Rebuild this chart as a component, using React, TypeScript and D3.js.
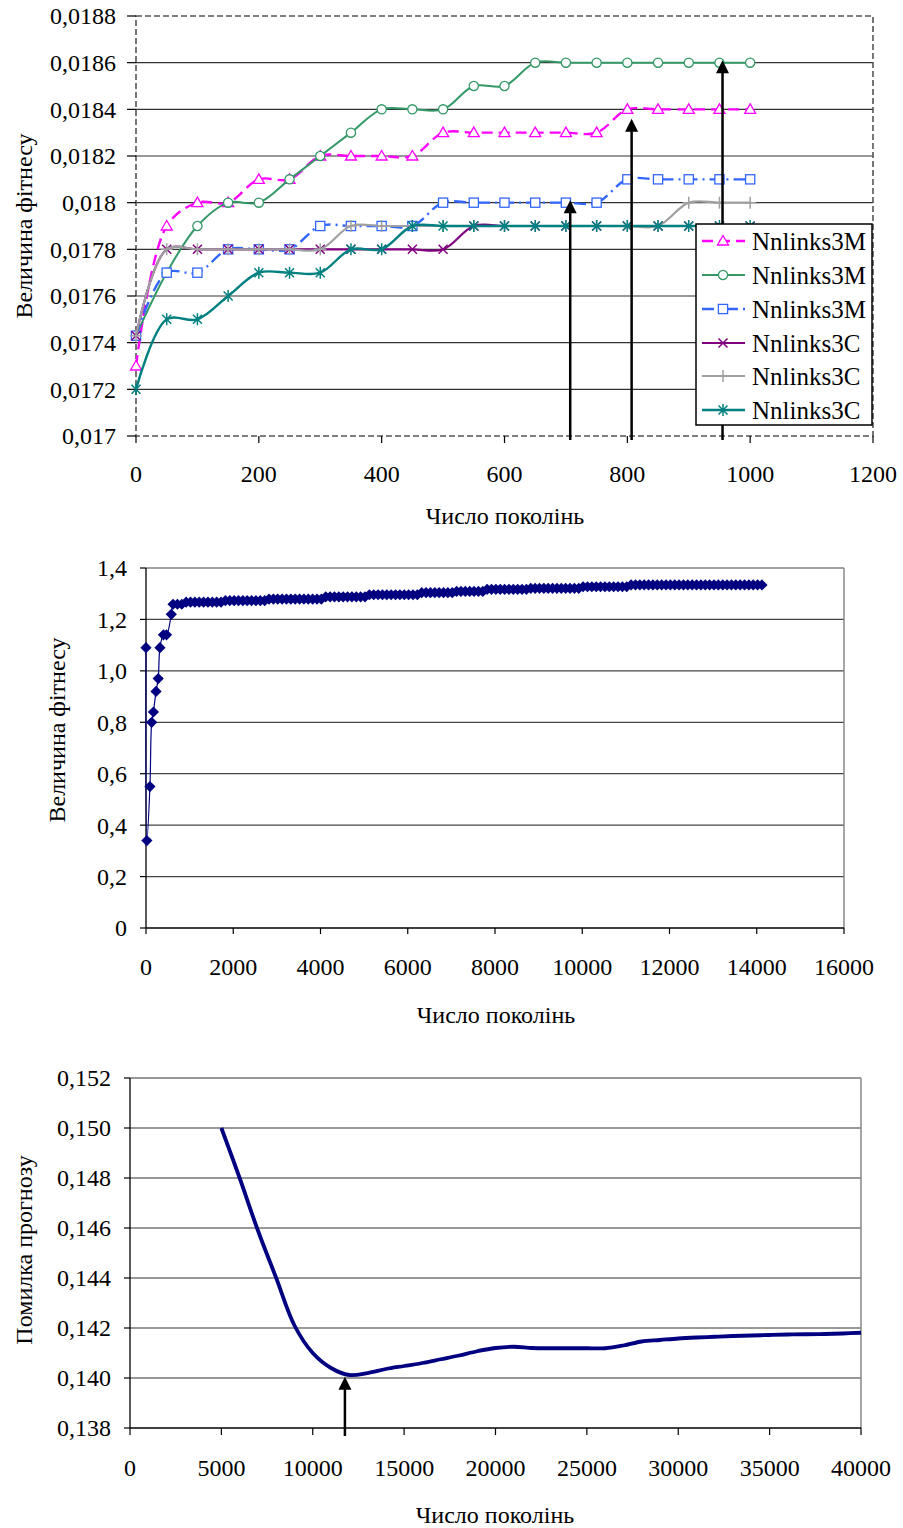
import * as d3 from 'd3';
import React from 'react';

// ---- top chart: fitness vs generations, six runs
const topGens = [0, 50, 100, 150, 200, 250, 300, 350, 400, 450, 500, 550, 600, 650, 700, 750, 800, 850, 900, 950, 1000];
const magentaVals = [0.0173, 0.0179, 0.018, 0.018, 0.0181, 0.0181, 0.0182, 0.0182, 0.0182, 0.0182, 0.0183, 0.0183, 0.0183, 0.0183, 0.0183, 0.0183, 0.0184, 0.0184, 0.0184, 0.0184, 0.0184];
const greenVals = [0.01743, 0.0177, 0.0179, 0.018, 0.018, 0.0181, 0.0182, 0.0183, 0.0184, 0.0184, 0.0184, 0.0185, 0.0185, 0.0186, 0.0186, 0.0186, 0.0186, 0.0186, 0.0186, 0.0186, 0.0186];
const blueVals = [0.01743, 0.0177, 0.0177, 0.0178, 0.0178, 0.0178, 0.0179, 0.0179, 0.0179, 0.0179, 0.018, 0.018, 0.018, 0.018, 0.018, 0.018, 0.0181, 0.0181, 0.0181, 0.0181, 0.0181];
const purpleVals = [0.01743, 0.0178, 0.0178, 0.0178, 0.0178, 0.0178, 0.0178, 0.0178, 0.0178, 0.0178, 0.0178, 0.0179, 0.0179, 0.0179, 0.0179, 0.0179, 0.0179, 0.0179, 0.0179, 0.0179, 0.0179];
const grayVals = [0.01743, 0.0178, 0.0178, 0.0178, 0.0178, 0.0178, 0.0178, 0.0179, 0.0179, 0.0179, 0.0179, 0.0179, 0.0179, 0.0179, 0.0179, 0.0179, 0.0179, 0.0179, 0.018, 0.018, 0.018];
const tealVals = [0.0172, 0.0175, 0.0175, 0.0176, 0.0177, 0.0177, 0.0177, 0.0178, 0.0178, 0.0179, 0.0179, 0.0179, 0.0179, 0.0179, 0.0179, 0.0179, 0.0179, 0.0179, 0.0179, 0.0179, 0.0179];
const topNames = ['Nnlinks3M', 'Nnlinks3M', 'Nnlinks3M', 'Nnlinks3C', 'Nnlinks3C', 'Nnlinks3C'];
const topYTicks = [0.017, 0.0172, 0.0174, 0.0176, 0.0178, 0.018, 0.0182, 0.0184, 0.0186, 0.0188];
const topXTicks = [0, 200, 400, 600, 800, 1000, 1200];
const topArrows = [
  { gen: 707, val: 0.01801 },
  { gen: 807, val: 0.01836 },
  { gen: 955, val: 0.01861 },
];

// ---- middle chart: long run
const midHeadGens = [0, 20, 90, 130, 170, 230, 280, 320, 400, 470, 580];
const midHeadVals = [1.09, 0.34, 0.55, 0.8, 0.84, 0.92, 0.97, 1.09, 1.14, 1.14, 1.22];
const midBandVals = [
  1.259, 1.259, 1.259,
  1.267, 1.267, 1.267, 1.267, 1.267, 1.267, 1.267, 1.267, 1.267,
  1.273, 1.273, 1.273, 1.273, 1.273, 1.273, 1.273, 1.273, 1.273, 1.273,
  1.279, 1.279, 1.279, 1.279, 1.279, 1.279, 1.279, 1.279, 1.279, 1.279, 1.279, 1.279, 1.279,
  1.288, 1.288, 1.288, 1.288, 1.288, 1.288, 1.288, 1.288, 1.288, 1.288,
  1.296, 1.296, 1.296, 1.296, 1.296, 1.296, 1.296, 1.296, 1.296, 1.296, 1.296, 1.296,
  1.304, 1.304, 1.304, 1.304, 1.304, 1.304, 1.304, 1.304,
  1.309, 1.309, 1.309, 1.309, 1.309, 1.309, 1.309,
  1.317, 1.317, 1.317, 1.317, 1.317, 1.317, 1.317, 1.317, 1.317, 1.317,
  1.321, 1.321, 1.321, 1.321, 1.321, 1.321, 1.321, 1.321, 1.321, 1.321, 1.321, 1.321,
  1.327, 1.327, 1.327, 1.327, 1.327, 1.327, 1.327, 1.327, 1.327, 1.327, 1.327,
  1.334, 1.334, 1.334, 1.334, 1.334, 1.334, 1.334, 1.334, 1.334, 1.334, 1.334, 1.334, 1.334, 1.334, 1.334, 1.334,
  1.334, 1.334, 1.334, 1.334, 1.334, 1.334, 1.334, 1.334, 1.334, 1.334, 1.334, 1.334, 1.334, 1.334, 1.334,
];
const midBandGens = d3.range(620, 620 + 100 * midBandVals.length, 100);
const midYTicks = [0, 0.2, 0.4, 0.6, 0.8, 1.0, 1.2, 1.4];
const midXTicks = [0, 2000, 4000, 6000, 8000, 10000, 12000, 14000, 16000];

// ---- bottom chart: forecast error
const botGens = [5000, 6000, 7000, 8000, 9000, 10000, 11000, 12000, 13000, 14000, 15000, 16000, 17000, 18000, 19000, 20000, 21000, 22000, 23000, 24000, 25000, 26000, 27000, 28000, 29000, 30000, 31000, 32000, 33000, 34000, 35000, 36000, 37000, 38000, 39000, 40000];
const botVals = [0.15, 0.148, 0.1459, 0.144, 0.1421, 0.141, 0.1404, 0.14012, 0.1402, 0.14036, 0.14048, 0.1406, 0.14075, 0.1409, 0.14107, 0.1412, 0.14125, 0.1412, 0.14119, 0.14119, 0.14119, 0.14119, 0.1413, 0.14146, 0.14152, 0.14158, 0.14162, 0.14165, 0.14168, 0.1417, 0.14172, 0.14174, 0.14175, 0.14176, 0.14178, 0.14181];
const botYTicks = [0.138, 0.14, 0.142, 0.144, 0.146, 0.148, 0.15, 0.152];
const botXTicks = [0, 5000, 10000, 15000, 20000, 25000, 30000, 35000, 40000];
const botArrow = { gen: 11760, val: 0.14005 };

const FONT = '"Liberation Serif", "Times New Roman", serif';
const FS = 24;

function Marker({ kind, color }) {
  if (kind === 'tri') return <path d="M0,-5.5L5.5,4L-5.5,4Z" fill="#fff" stroke={color} strokeWidth={1.3} />;
  if (kind === 'circle') return <circle r={4.6} fill="#fff" stroke={color} strokeWidth={1.3} />;
  if (kind === 'square') return <rect x={-4.6} y={-4.6} width={9.2} height={9.2} fill="#fff" stroke={color} strokeWidth={1.3} />;
  if (kind === 'x') return <path d="M-4.5,-4.5L4.5,4.5M-4.5,4.5L4.5,-4.5" stroke={color} strokeWidth={1.5} />;
  if (kind === 'plus') return <path d="M0,-6V6M-6,0H6" stroke={color} strokeWidth={1.5} />;
  return <path d="M-4.5,-4.5L4.5,4.5M-4.5,4.5L4.5,-4.5M0,-6V6" stroke={color} strokeWidth={1.5} />;
}

function Arrow({ x, y, bottom }) {
  return (
    <g>
      <line x1={x} x2={x} y1={bottom} y2={y + 10} stroke="#000" strokeWidth={2.5} />
      <path d={`M${x},${y}L${x + 6.5},${y + 13}L${x - 6.5},${y + 13}Z`} fill="#000" />
    </g>
  );
}

function TopChart() {
  const x = d3.scaleLinear().domain([0, 1200]).range([136, 873]);
  const y = d3.scaleLinear().domain([0.017, 0.0188]).range([436, 16]);
  const series = [
    { vals: magentaVals, color: '#FF00FF', dash: '11,6', width: 2.4, marker: 'tri' },
    { vals: greenVals, color: '#339966', dash: null, width: 2, marker: 'circle' },
    { vals: blueVals, color: '#3366FF', dash: '12,5,2,5', width: 2.4, marker: 'square' },
    { vals: purpleVals, color: '#800080', dash: null, width: 2.2, marker: 'x' },
    { vals: grayVals, color: '#A0A0A0', dash: null, width: 2.2, marker: 'plus' },
    { vals: tealVals, color: '#008080', dash: null, width: 2.4, marker: 'star' },
  ];
  const line = d3.line<number>()
    .x((d, i) => x(topGens[i]))
    .y(d => y(d))
    .curve(d3.curveCatmullRom.alpha(0.5));
  const fmt = v => v.toFixed(4).replace(/0+$/, '').replace('.', ',');
  const legY = [241, 275, 309, 343, 376, 410];
  return (
    <g fontFamily={FONT} fontSize={FS}>
      {topYTicks.slice(1, -1).map(t => (
        <line key={t} x1={136} x2={873} y1={y(t)} y2={y(t)} stroke="#333" strokeWidth={1.2} />
      ))}
      <rect x={136} y={16} width={737} height={420} fill="none" stroke="#555" strokeWidth={1.6} strokeDasharray="6,3" />
      {topYTicks.map(t => (
        <g key={t}>
          <line x1={127} x2={136} y1={y(t)} y2={y(t)} stroke="#000" strokeWidth={1.2} />
          <text x={116} y={y(t)} dy="0.35em" textAnchor="end">{fmt(t)}</text>
        </g>
      ))}
      {topXTicks.map(t => (
        <g key={t}>
          <line x1={x(t)} x2={x(t)} y1={436} y2={443} stroke="#000" strokeWidth={1.2} />
          <text x={x(t)} y={474} dy="0.35em" textAnchor="middle">{t}</text>
        </g>
      ))}
      {series.map((s, i) => (
        <g key={i}>
          <path d={line(s.vals)} fill="none" stroke={s.color} strokeWidth={s.width} strokeDasharray={s.dash || undefined} />
          {s.vals.map((v, j) => (
            <g key={j} transform={`translate(${x(topGens[j])},${y(v)})`}>
              <Marker kind={s.marker} color={s.color} />
            </g>
          ))}
        </g>
      ))}
      {topArrows.map((a, i) => (
        <Arrow key={i} x={x(a.gen)} y={y(a.val)} bottom={440} />
      ))}
      <rect x={696} y={224} width={176} height={201} fill="#fff" stroke="#000" strokeWidth={1.5} />
      {series.map((s, i) => (
        <g key={i} transform={`translate(0,${legY[i]})`}>
          <line x1={702} x2={745} y1={0} y2={0} stroke={s.color} strokeWidth={s.width} strokeDasharray={s.dash || undefined} />
          <g transform="translate(723,0)"><Marker kind={s.marker} color={s.color} /></g>
          <text x={752} y={0} dy="0.35em" fontSize={25}>{topNames[i]}</text>
        </g>
      ))}
      <text x={505} y={516} dy="0.35em" textAnchor="middle">Число поколінь</text>
      <text transform="translate(24,226) rotate(-90)" dy="0.35em" textAnchor="middle">Величина фітнесу</text>
    </g>
  );
}

function MidChart() {
  const x = d3.scaleLinear().domain([0, 16000]).range([146, 844]);
  const y = d3.scaleLinear().domain([0, 1.4]).range([928, 568]);
  const gens = midHeadGens.concat(midBandGens);
  const vals = midHeadVals.concat(midBandVals);
  const line = d3.line<number>()
    .x((d, i) => x(gens[i]))
    .y(d => y(d))
    .curve(d3.curveCatmullRom.alpha(0.5));
  const fmt = v => (v === 0 ? '0' : v.toFixed(1).replace('.', ','));
  return (
    <g fontFamily={FONT} fontSize={FS}>
      {midYTicks.slice(1).map(t => (
        <line key={t} x1={146} x2={844} y1={y(t)} y2={y(t)} stroke="#444" strokeWidth={1.2} />
      ))}
      <line x1={844} x2={844} y1={568} y2={928} stroke="#888" strokeWidth={1.5} />
      <line x1={146} x2={146} y1={568} y2={928} stroke="#000" strokeWidth={1.3} />
      <line x1={146} x2={844} y1={928} y2={928} stroke="#000" strokeWidth={1.3} />
      {midYTicks.map(t => (
        <g key={t}>
          <line x1={140} x2={146} y1={y(t)} y2={y(t)} stroke="#000" strokeWidth={1.2} />
          <text x={127} y={y(t)} dy="0.35em" textAnchor="end">{fmt(t)}</text>
        </g>
      ))}
      {midXTicks.map(t => (
        <g key={t}>
          <line x1={x(t)} x2={x(t)} y1={928} y2={934} stroke="#000" strokeWidth={1.2} />
          <text x={x(t)} y={967} dy="0.35em" textAnchor="middle">{t}</text>
        </g>
      ))}
      <path d={line(vals)} fill="none" stroke="#000080" strokeWidth={1.2} />
      {vals.map((v, i) => (
        <path key={i} transform={`translate(${x(gens[i])},${y(v)})`} d="M0,-5.6L5.6,0L0,5.6L-5.6,0Z" fill="#000080" />
      ))}
      <text x={496} y={1015} dy="0.35em" textAnchor="middle">Число поколінь</text>
      <text transform="translate(57,730) rotate(-90)" dy="0.35em" textAnchor="middle">Величина фітнесу</text>
    </g>
  );
}

function BotChart() {
  const x = d3.scaleLinear().domain([0, 40000]).range([130, 861]);
  const y = d3.scaleLinear().domain([0.138, 0.152]).range([1428, 1078]);
  const line = d3.line<number>()
    .x((d, i) => x(botGens[i]))
    .y(d => y(d))
    .curve(d3.curveCatmullRom.alpha(0.5));
  const fmt = v => v.toFixed(3).replace('.', ',');
  return (
    <g fontFamily={FONT} fontSize={FS}>
      {botYTicks.slice(1).map(t => (
        <line key={t} x1={130} x2={861} y1={y(t)} y2={y(t)} stroke="#333" strokeWidth={1.2} />
      ))}
      <line x1={861} x2={861} y1={1078} y2={1428} stroke="#888" strokeWidth={1.5} />
      <line x1={130} x2={130} y1={1078} y2={1428} stroke="#000" strokeWidth={1.3} />
      <line x1={130} x2={861} y1={1428} y2={1428} stroke="#000" strokeWidth={1.3} />
      {botYTicks.map(t => (
        <g key={t}>
          <line x1={124} x2={130} y1={y(t)} y2={y(t)} stroke="#000" strokeWidth={1.2} />
          <text x={111} y={y(t)} dy="0.35em" textAnchor="end">{fmt(t)}</text>
        </g>
      ))}
      {botXTicks.map(t => (
        <g key={t}>
          <line x1={x(t)} x2={x(t)} y1={1428} y2={1435} stroke="#000" strokeWidth={1.2} />
          <text x={x(t)} y={1468} dy="0.35em" textAnchor="middle">{t}</text>
        </g>
      ))}
      <path d={line(botVals)} fill="none" stroke="#000080" strokeWidth={3.8} />
      <Arrow x={x(botArrow.gen)} y={y(botArrow.val)} bottom={1436} />
      <text x={495} y={1515} dy="0.35em" textAnchor="middle">Число поколінь</text>
      <text transform="translate(24,1250) rotate(-90)" dy="0.35em" textAnchor="middle">Помилка прогнозу</text>
    </g>
  );
}

export default function App() {
  return (
    <svg width={903} height={1528} style={{ position: 'absolute', left: 0, top: 0, display: 'block', background: '#fff' }}>
      <TopChart />
      <MidChart />
      <BotChart />
    </svg>
  );
}
